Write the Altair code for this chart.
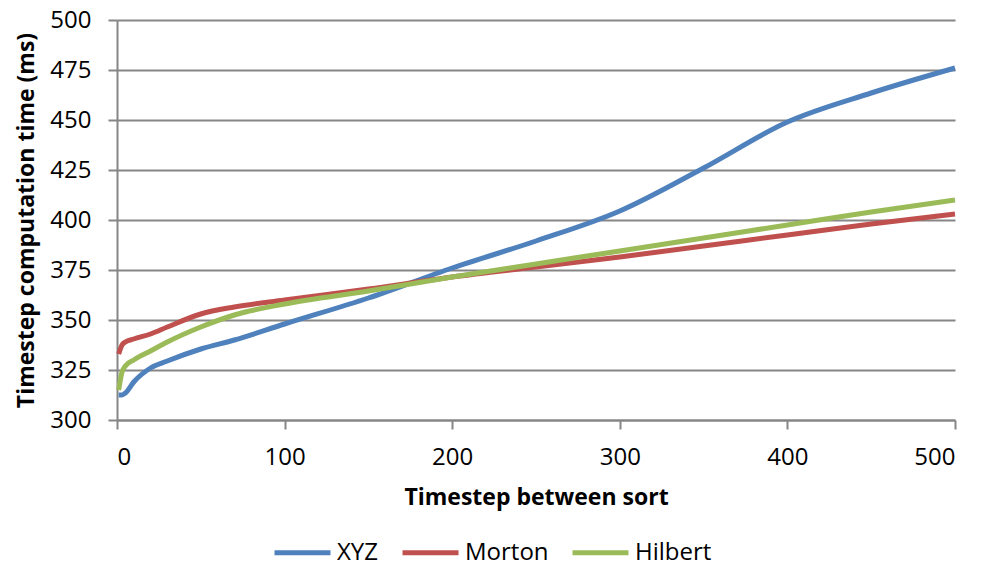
import altair as alt
import pandas as pd

steps = [1, 3, 5, 10, 20, 30, 50, 70, 100, 150, 200, 250, 300, 350, 400, 450, 500]
xyz = [312.5, 312.5, 313.5, 319, 326, 329.5, 335.5, 340, 348, 361, 376, 389.5, 404.5, 426, 449, 463.5, 476]
morton = [333, 337.5, 339, 340.5, 343, 346.5, 353, 356.5, 360, 365.5, 371.5, 376.5, 381.5, 387, 392.5, 398, 403]
hilbert = [315, 324, 327, 330, 334.5, 339, 346.5, 352.5, 358, 364.5, 371.5, 378, 384.5, 391, 397.5, 404, 410]

series_names = ["XYZ", "Morton", "Hilbert"]
series_colors = ["#4F81BD", "#C0504D", "#9BBB59"]
x_ticks = [0, 100, 200, 300, 400, 500]
y_ticks = [300, 325, 350, 375, 400, 425, 450, 475, 500]

rows = []
for name, vals in zip(series_names, [xyz, morton, hilbert]):
    for s, v in zip(steps, vals):
        rows.append({"step": s, "time": v, "series": name})
df = pd.DataFrame(rows)

FONT = "Open Sans"

chart = alt.Chart(df).mark_line(strokeWidth=5, interpolate="monotone").encode(
    x=alt.X("step:Q", scale=alt.Scale(domain=[0, 500], nice=False),
            axis=alt.Axis(values=x_ticks, title="Timestep between sort", grid=False,
                          tickSize=9, labelPadding=16, titlePadding=17)),
    y=alt.Y("time:Q", scale=alt.Scale(domain=[300, 500], nice=False, zero=False),
            axis=alt.Axis(values=y_ticks, title="Timestep computation time (ms)", grid=True,
                          tickSize=9, labelPadding=17, titlePadding=11)),
    color=alt.Color("series:N", scale=alt.Scale(domain=series_names, range=series_colors),
                    legend=alt.Legend(title=None, orient="none", direction="horizontal",
                                      legendX=155, legendY=502,
                                      symbolType="stroke", symbolSize=3136, symbolStrokeWidth=5,
                                      labelFontSize=24, labelFont=FONT, labelOffset=4,
                                      columnPadding=13, labelColor="black")),
).properties(
    width=838, height=400,
    autosize=alt.AutoSizeParams(type="none"),
    padding={"left": 117, "top": 20, "right": 34, "bottom": 141},
).configure_axis(
    labelFont=FONT, labelFontSize=24, labelColor="black",
    titleFont=FONT, titleFontSize=23, titleFontWeight="bold", titleColor="black",
    domainColor="#868686", domainWidth=2, tickColor="#868686", tickWidth=2,
    gridColor="#868686", gridWidth=2,
).configure_view(stroke=None)

chart.save("out.html", embed_options={"renderer": "svg", "actions": False})
